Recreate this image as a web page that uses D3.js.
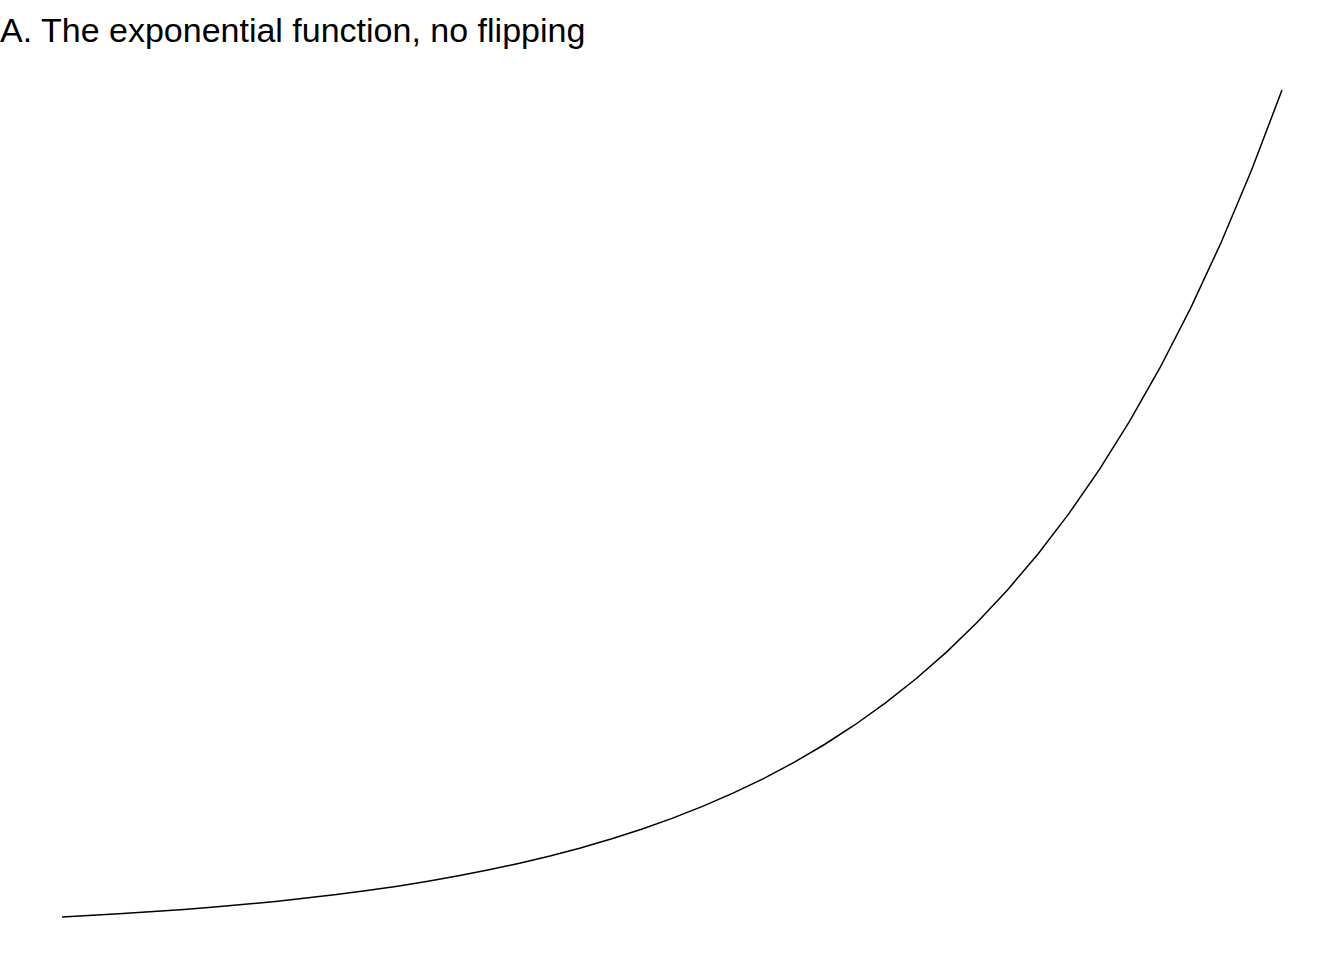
<!DOCTYPE html>
<html>
<head>
<meta charset="utf-8">
<script src="https://cdn.jsdelivr.net/npm/d3@7"></script>
<style>
  html, body { margin: 0; padding: 0; background: #ffffff; }
  svg { display: block; }
</style>
</head>
<body>
<svg id="chart" width="1344" height="960"></svg>
<script>
// Data
const titleText = "A. The exponential function, no flipping";
const xValues = [0, 0.1, 0.2, 0.3, 0.4, 0.5, 0.6, 0.7, 0.8, 0.9, 1.0,
                 1.1, 1.2, 1.3, 1.4, 1.5, 1.6, 1.7, 1.8, 1.9, 2.0,
                 2.1, 2.2, 2.3, 2.4, 2.5, 2.6, 2.7, 2.8, 2.9, 3.0,
                 3.1, 3.2, 3.3, 3.4, 3.5, 3.6, 3.7, 3.8, 3.9, 4.0];
const yValues = [1.00, 1.11, 1.22, 1.35, 1.49, 1.65, 1.82, 2.01, 2.23, 2.46, 2.72,
                 3.00, 3.32, 3.67, 4.06, 4.48, 4.95, 5.47, 6.05, 6.69, 7.39,
                 8.17, 9.03, 9.97, 11.02, 12.18, 13.46, 14.88, 16.44, 18.17, 20.09,
                 22.20, 24.53, 27.11, 29.96, 33.12, 36.60, 40.45, 44.70, 49.40, 54.60];

const svg = d3.select("#chart");
const W = 1344, H = 960;

const x = d3.scaleLinear().domain(d3.extent(xValues)).range([62, 1282]);
const y = d3.scaleLinear().domain(d3.extent(yValues)).range([917, 90]);

const data = xValues.map((v, i) => ({ x: v, y: yValues[i] }));

svg.append("rect").attr("width", W).attr("height", H).attr("fill", "#ffffff");

svg.append("path")
  .datum(data)
  .attr("fill", "none")
  .attr("stroke", "#000000")
  .attr("stroke-width", 1.5)
  .attr("d", d3.line().x(d => x(d.x)).y(d => y(d.y)).curve(d3.curveLinear));

svg.append("text")
  .attr("x", 0)
  .attr("y", 42)
  .attr("font-family", "Liberation Sans, Arial, sans-serif")
  .attr("font-size", 34)
  .attr("fill", "#000000")
  .text(titleText);
</script>
</body>
</html>
